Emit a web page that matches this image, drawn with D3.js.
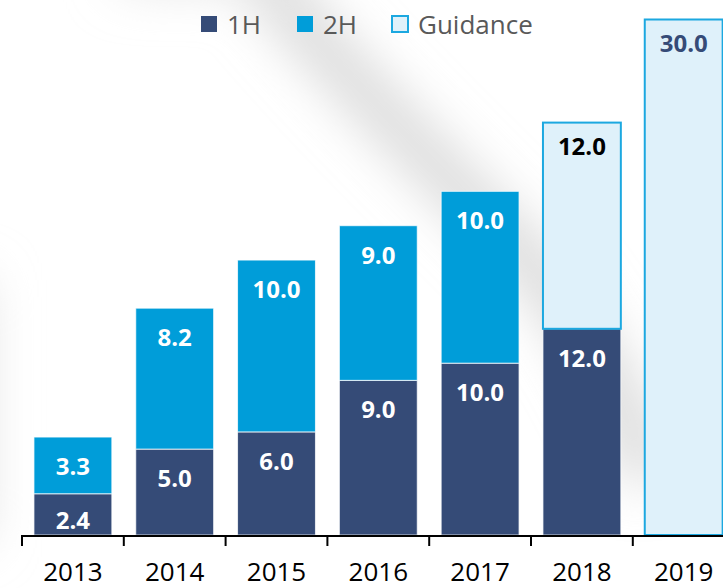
<!DOCTYPE html>
<html>
<head>
<meta charset="utf-8">
<script src="https://cdn.jsdelivr.net/npm/d3@7"></script>
<style>
  html, body { margin: 0; padding: 0; background: #fff; overflow: hidden; }
  svg { display: block; }
</style>
</head>
<body>
<script>
// ---- data ----
const years = ["2013", "2014", "2015", "2016", "2017", "2018", "2019"];
const firstHalf = [2.4, 5.0, 6.0, 9.0, 10.0, 12.0, null];
const secondHalf = [3.3, 8.2, 10.0, 9.0, 10.0, null, null];
const guidance = [null, null, null, null, null, 12.0, 30.0];
const seriesNames = ["1H", "2H", "Guidance"];
const colors = { h1: "#354B77", h2: "#009DD9", gFill: "#DFF1FA", gStroke: "#1CA8E0" };

const W = 723, H = 588;
const svg = d3.select("body").append("svg").attr("width", W).attr("height", H);

// background shading
const defs = svg.append("defs");
const blur = defs.append("filter").attr("id", "blur")
  .attr("x", "-50%").attr("y", "-50%").attr("width", "200%").attr("height", "200%");
blur.append("feGaussianBlur").attr("stdDeviation", 26);
const bg = svg.append("g").attr("filter", "url(#blur)");
bg.append("path")
  .attr("d", "M240,-50 C320,50 410,140 490,220 C565,295 615,375 650,480")
  .attr("fill", "none").attr("stroke", "#d6d6d6").attr("stroke-width", 44);
bg.append("path")
  .attr("d", "M-40,280 L-40,540")
  .attr("fill", "none").attr("stroke", "#e0e0e0").attr("stroke-width", 50);
bg.append("path")
  .attr("d", "M120,-40 L300,-40")
  .attr("fill", "none").attr("stroke", "#e2e2e2").attr("stroke-width", 50);

// scales
const step = 101.8;
const x = d3.scaleBand().domain(years)
  .range([22, 22 + step * years.length])
  .paddingInner(0.235).paddingOuter(0.1175);
const y = d3.scaleLinear().domain([0, 30]).range([535, 19.5]);

const fontF = "'Open Sans', 'Noto Sans', sans-serif";
const g = svg.append("g");

// build stacked segments
const segs = [];
years.forEach((yr, i) => {
  let base = 0;
  if (firstHalf[i] != null) {
    segs.push({ yr, y0: base, y1: base + firstHalf[i], v: firstHalf[i], type: "h1" });
    base += firstHalf[i];
  }
  if (secondHalf[i] != null) {
    segs.push({ yr, y0: base, y1: base + secondHalf[i], v: secondHalf[i], type: "h2" });
    base += secondHalf[i];
  }
  if (guidance[i] != null) {
    segs.push({ yr, y0: base, y1: base + guidance[i], v: guidance[i], type: "g" });
    base += guidance[i];
  }
});

g.selectAll("rect.seg").data(segs).join("rect")
  .attr("class", "seg")
  .attr("x", d => x(d.yr))
  .attr("width", x.bandwidth())
  .attr("y", d => y(d.y1))
  .attr("height", d => y(d.y0) - y(d.y1))
  .attr("fill", d => d.type === "h1" ? colors.h1 : d.type === "h2" ? colors.h2 : colors.gFill)
  .attr("stroke", d => d.type === "g" ? colors.gStroke : "rgba(255,255,255,0.75)")
  .attr("stroke-width", d => d.type === "g" ? 2 : 1);

// value labels
g.selectAll("text.val").data(segs).join("text")
  .attr("class", "val")
  .attr("x", d => x(d.yr) + x.bandwidth() / 2)
  .attr("y", d => {
    const top = y(d.y1), bot = y(d.y0);
    return d.type === "g" ? top + 32 : Math.min(top + 38, bot - 6);
  })
  .attr("text-anchor", "middle")
  .attr("font-family", fontF)
  .attr("font-weight", 700)
  .attr("font-size", 24)
  .attr("fill", d => d.type === "g" ? (d.yr === "2018" ? "#000000" : colors.h1) : "#ffffff")
  .text(d => d3.format(".1f")(d.v));

// axis
const axisG = svg.append("g");
const [r0] = x.range();
axisG.append("line")
  .attr("x1", r0).attr("x2", W + 5).attr("y1", 536).attr("y2", 536)
  .attr("stroke", "#000").attr("stroke-width", 2);
axisG.selectAll("line.tick").data(years).join("line")
  .attr("class", "tick")
  .attr("x1", (d, i) => r0 + i * x.step())
  .attr("x2", (d, i) => r0 + i * x.step())
  .attr("y1", 535).attr("y2", 546)
  .attr("stroke", "#000").attr("stroke-width", 2);
axisG.selectAll("text.yl").data(years).join("text")
  .attr("class", "yl")
  .attr("x", d => x(d) + x.bandwidth() / 2)
  .attr("y", 581)
  .attr("text-anchor", "middle")
  .attr("font-family", fontF)
  .attr("font-size", 26)
  .attr("fill", "#000")
  .text(d => d);

// legend
const legend = svg.append("g");
const legendItems = [
  { name: seriesNames[0], sx: 201, tx: 227, fill: colors.h1, stroke: "none" },
  { name: seriesNames[1], sx: 297, tx: 323, fill: colors.h2, stroke: "none" },
  { name: seriesNames[2], sx: 392, tx: 418, fill: colors.gFill, stroke: colors.gStroke }
];
legendItems.forEach(it => {
  legend.append("rect")
    .attr("x", it.sx).attr("y", 16).attr("width", 16).attr("height", 16)
    .attr("fill", it.fill).attr("stroke", it.stroke).attr("stroke-width", 2);
  legend.append("text")
    .attr("x", it.tx).attr("y", 34)
    .attr("font-family", fontF).attr("font-size", 26)
    .attr("fill", "#595959")
    .text(it.name);
});
</script>
</body>
</html>
